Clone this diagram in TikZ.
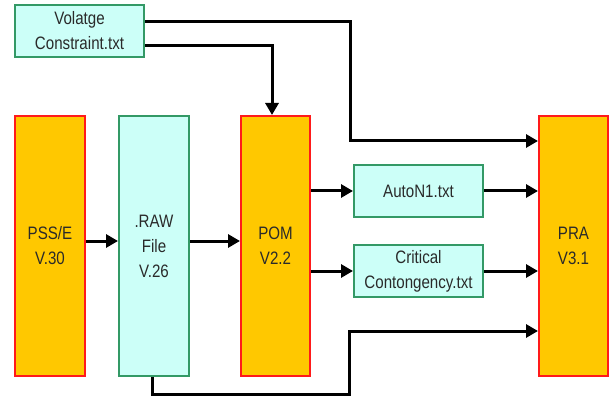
\documentclass[tikz,border=0pt]{standalone}
\usepackage{fontspec}
\setmainfont{Liberation Sans}[FakeStretch=0.84]
\usetikzlibrary{arrows.meta}
\definecolor{boxorange}{HTML}{FFC800}
\definecolor{boxred}{HTML}{FF1A1A}
\definecolor{boxcyan}{HTML}{CCFFF8}
\definecolor{boxgreen}{HTML}{339966}
\definecolor{txtgray}{HTML}{2A2A2A}
\tikzset{
  base/.style={draw, line width=2pt, inner sep=0pt, align=center, text=txtgray,
    font=\fontsize{18}{25}\selectfont},
  tool/.style={base, fill=boxorange, draw=boxred, minimum width=70pt, minimum height=260pt},
  file/.style={base, fill=boxcyan, draw=boxgreen},
  arr/.style={line width=3pt, -{Triangle[length=12pt,width=13pt]}},
}
\begin{document}
\begin{tikzpicture}[x=1pt,y=-1pt]
\useasboundingbox (0,0) rectangle (613,398);
\node[file, minimum width=129pt, minimum height=52pt] (vc) at (79.5,31) {Volatge\\Constraint.txt};
\node[tool] (pss) at (50,246) {PSS/E\\V.30};
\node[file, minimum width=70pt, minimum height=260pt] (raw) at (154,246) {.RAW\\File\\V.26};
\node[tool, minimum width=69pt] (pom) at (275.5,246) {POM\\V2.2};
\node[file, minimum width=129pt, minimum height=52pt] (auto) at (418.5,191) {AutoN1.txt};
\node[file, minimum width=129pt, minimum height=52pt] (crit) at (418.5,271) {Critical\\Contongency.txt};
\node[tool, minimum width=69pt] (pra) at (573.5,246) {PRA\\V3.1};
\coordinate (c1) at (350,80);
\coordinate (c2) at (349,394.5);
\draw[arr] ([yshift=5pt]pss.east) -- ([yshift=5pt]raw.west);
\draw[arr] ([yshift=5pt]raw.east) -- ([yshift=5pt]pom.west);
\draw[arr] ([yshift=9pt]vc.east) -| (c1) |- ([yshift=105pt]pra.west);
\draw[arr] ([yshift=-15pt]vc.east) -| ([xshift=-3.5pt]pom.north);
\draw[arr] (pom.east |- auto.west) -- (auto.west);
\draw[arr] (auto.east) -- (auto.east -| pra.west);
\draw[arr] (pom.east |- crit.west) -- (crit.west);
\draw[arr] (crit.east) -- (crit.east -| pra.west);
\draw[arr] ([xshift=-2pt]raw.south) |- (c2) |- ([yshift=-85pt]pra.west);
\end{tikzpicture}
\end{document}
